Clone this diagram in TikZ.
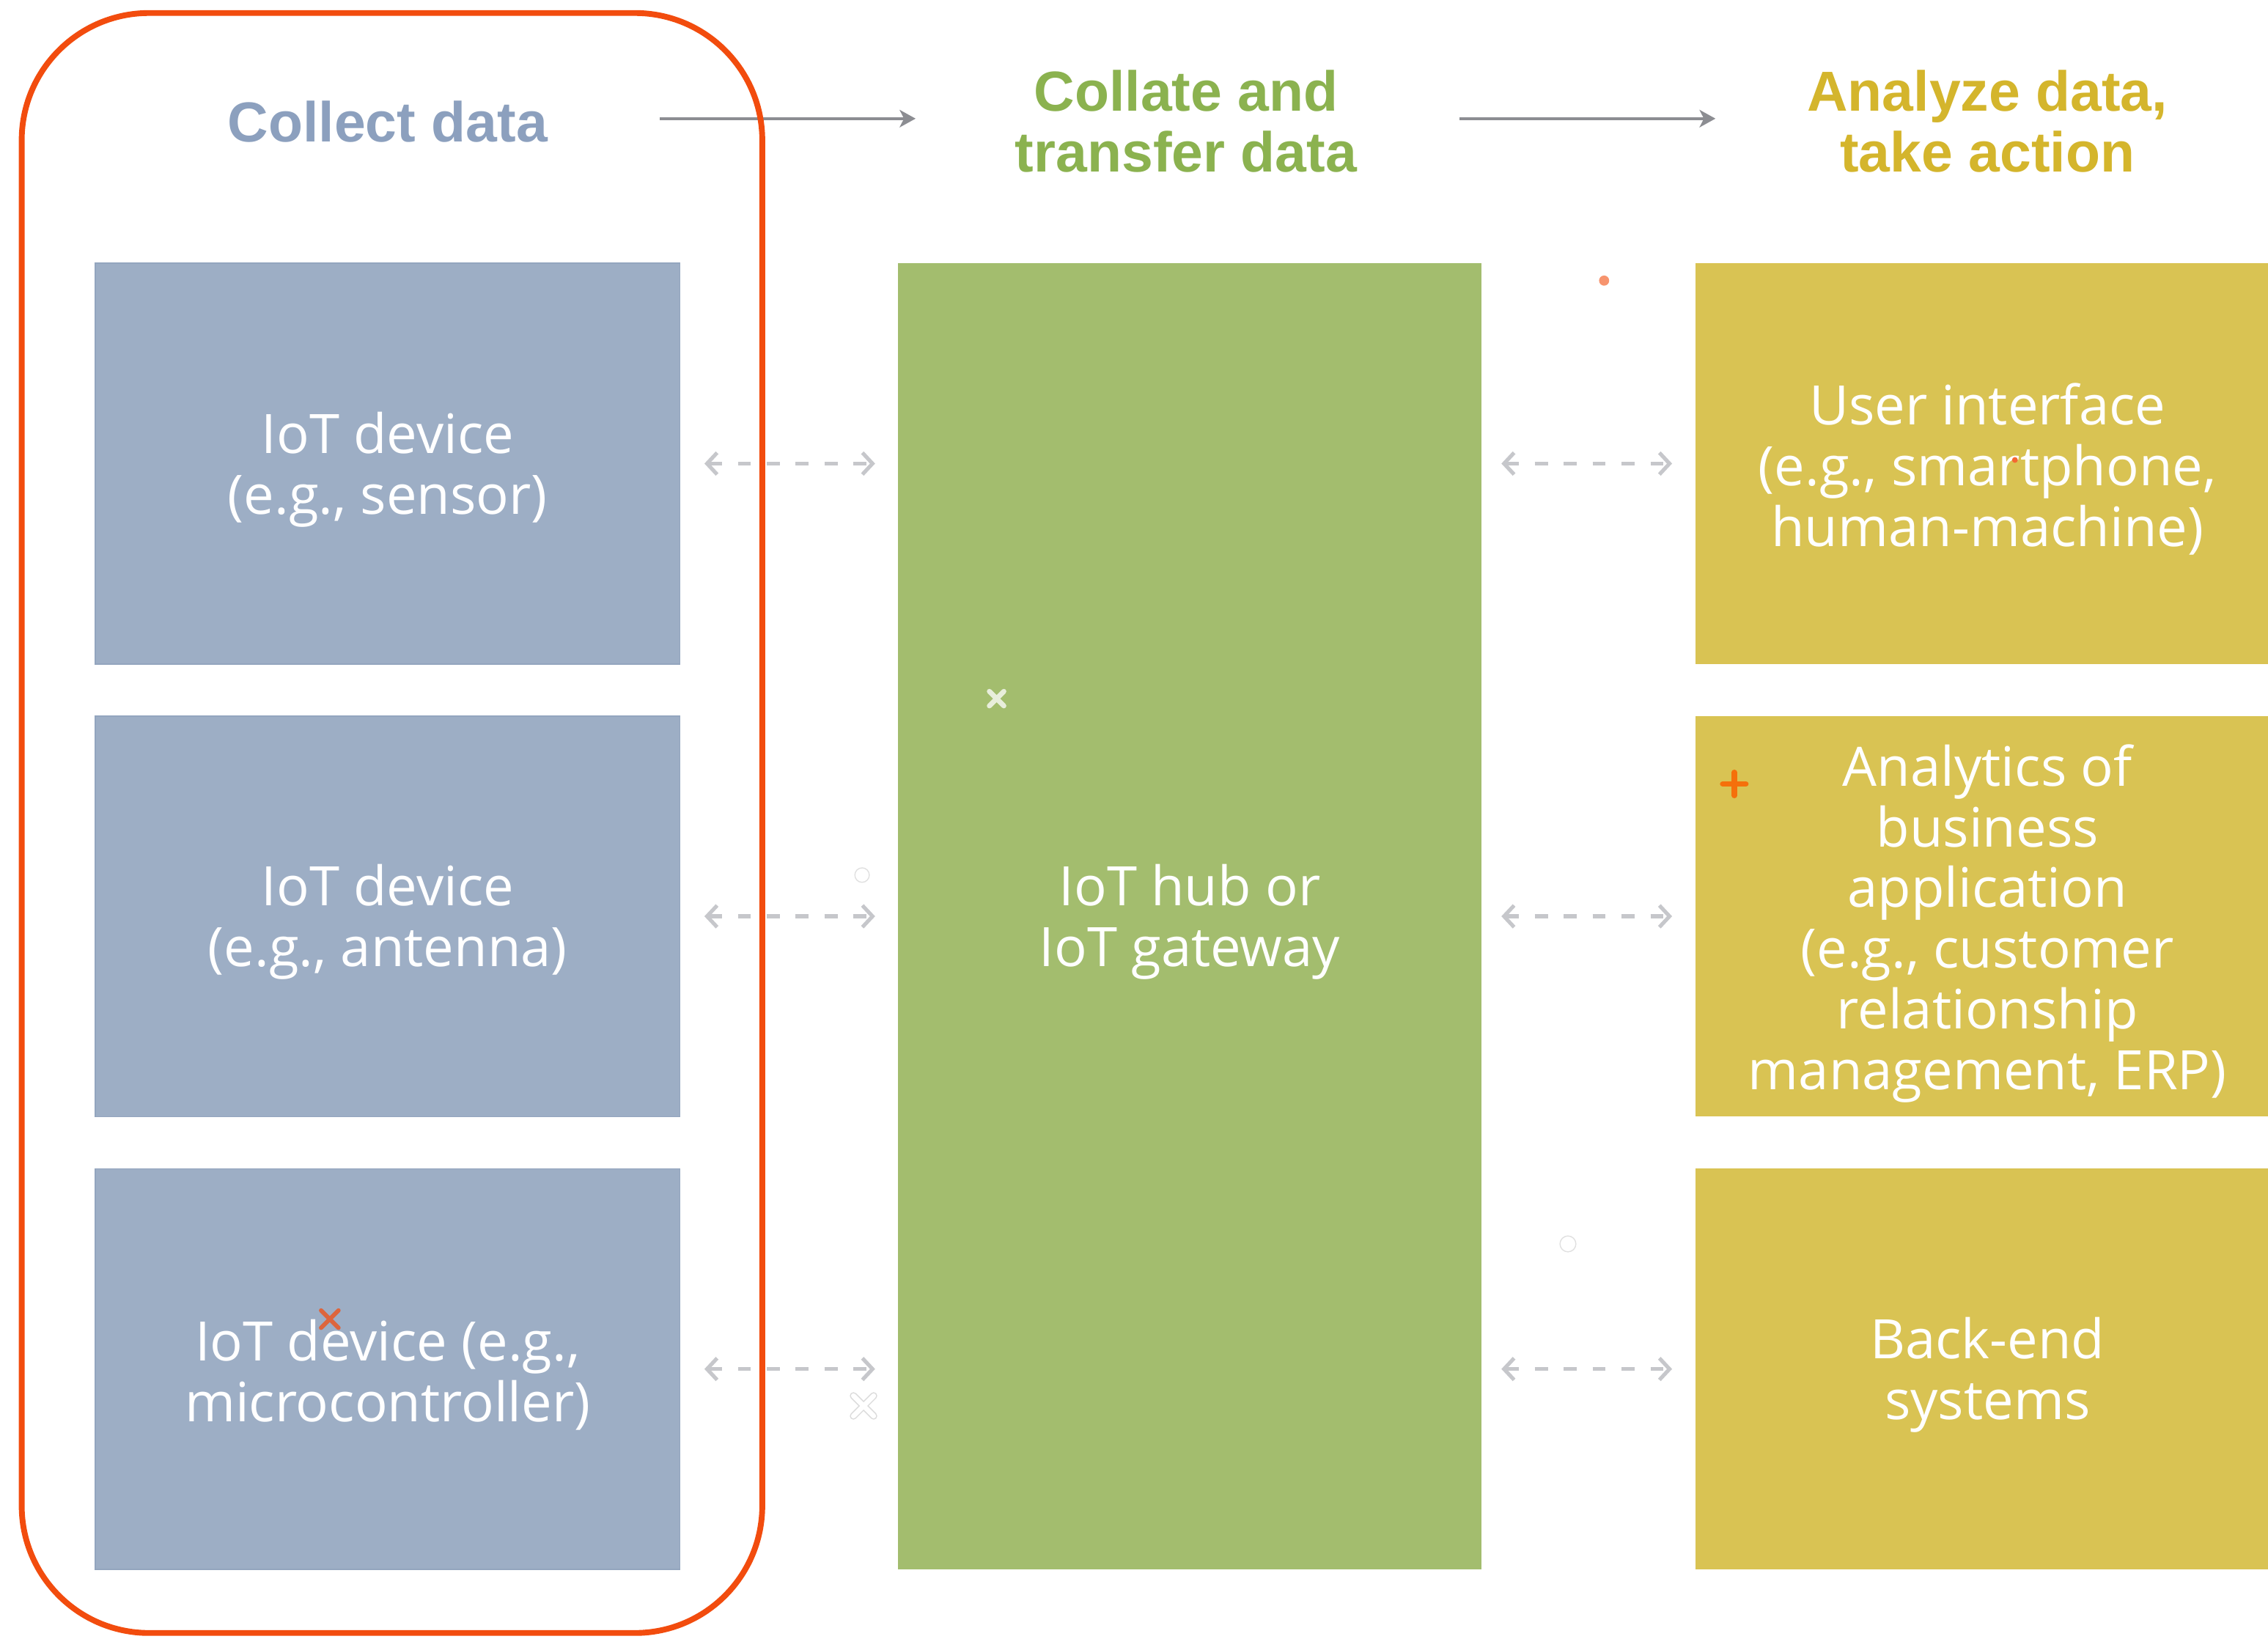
\documentclass[tikz,border=0pt]{standalone}
\usepackage{fontspec}
\setmainfont{Open Sans}
\newfontfamily\headfont{Liberation Sans}
\usetikzlibrary{arrows.meta}
\definecolor{bluebox}{HTML}{9DAEC5}
\definecolor{blueedge}{HTML}{93A5BE}
\definecolor{greenbox}{HTML}{A3BD6E}
\definecolor{yellowbox}{HTML}{D9C353}
\definecolor{bluehead}{HTML}{8CA0BE}
\definecolor{greenhead}{HTML}{8BB24F}
\definecolor{yellowhead}{HTML}{D4B52C}
\definecolor{toparrowcol}{HTML}{8C8D92}
\definecolor{dasharrowcol}{HTML}{C6C7CB}
\definecolor{orangeline}{HTML}{F24C0E}
\begin{document}
\begin{tikzpicture}[x=1pt,y=-1pt,
  boxtext/.style={text=white,align=center,font=\fontsize{37.6}{42}\selectfont,inner sep=0pt,outer sep=0pt},
  smallbox/.style={inner sep=0pt,outer sep=0pt,minimum width=404pt,minimum height=277pt},
  header/.style={align=center,font=\headfont\bfseries\fontsize{39}{42}\selectfont,inner sep=0pt},
  toparrow/.style={draw=toparrowcol,line width=1.9pt,-{Stealth[length=11pt,width=12pt,inset=3pt]}},
  dasharrow/.style={draw=dasharrowcol,line width=2.6pt,dash pattern=on 9pt off 11pt,
     {Straight Barb[length=7pt,width=15pt,line width=2.6pt]}-{Straight Barb[length=7pt,width=15pt,line width=2.6pt]}}]
\clip (0,0) rectangle (1568,1133);
\fill[white] (0,0) rectangle (1568,1133);
% headers
\node[header,text=bluehead] (h1) at (268,84) {Collect data};
\node[header,text=greenhead] (h2) at (820,84) {Collate and\\transfer data};
\node[header,text=yellowhead] (h3) at (1374,84) {Analyze data,\\take action};
\draw[toparrow,shorten <=188pt,shorten >=187pt] (h1.center |- 0,82) -- (h2.center |- 0,82);
\draw[toparrow,shorten <=189pt,shorten >=188pt] (h2.center |- 0,82) -- (h3.center |- 0,82);
% left column
\node[smallbox,fill=bluebox,draw=blueedge,line width=0.8pt] (b1) at (268,320.5) {};
\node[smallbox,fill=bluebox,draw=blueedge,line width=0.8pt] (b2) at (268,633.5) {};
\node[smallbox,fill=bluebox,draw=blueedge,line width=0.8pt] (b3) at (268,946.5) {};
\node[boxtext] (tb1) at ([yshift=-4pt]b1.center) {IoT device\\(e.g., sensor)};
\node[boxtext] (tb2) at ([yshift=-4pt]b2.center) {IoT device\\(e.g., antenna)};
\node[boxtext] (tb3) at ([yshift=-4pt]b3.center) {IoT device (e.g.,\\microcontroller)};
% middle
\node[inner sep=0pt,outer sep=0pt,fill=greenbox,minimum width=403pt,minimum height=903pt] (g) at (822.5,633.5) {};
\node[boxtext] (tg) at ([yshift=-4pt]g.center) {IoT hub or\\IoT gateway};
% right column
\node[smallbox,fill=yellowbox] (y1) at (1374,320.5) {};
\node[smallbox,fill=yellowbox] (y2) at (1374,633.5) {};
\node[smallbox,fill=yellowbox] (y3) at (1374,946.5) {};
\node[boxtext] (ty1) at ([yshift=-4pt]y1.center) {User interface\\(e.g., smartphone,\\human-machine)};
\node[boxtext] (ty2) at ([yshift=-5pt]y2.center) {Analytics of\\business\\application\\(e.g., customer\\relationship\\management, ERP)};
\node[boxtext] (ty3) at ([yshift=-4pt]y3.center) {Back-end\\systems};
% dashed connectors
\foreach \i in {1,2,3}{
  \draw[dasharrow,shorten <=17pt,shorten >=16pt] (b\i.east) -- (b\i.east -| g.west);
  \draw[dasharrow,shorten <=14pt,shorten >=16pt] (y\i.west -| g.east) -- (y\i.west);
}
% orange rounded outline
\draw[orangeline,line width=4pt,rounded corners=88pt] (15,9) rectangle (527,1129);
% stray marks
\fill[orangeline!60!white] (1109,194) circle (3.5pt);
\draw[line width=3.5pt,line cap=round,color=greenbox!25!white] (684,478) -- (694,488) (684,488) -- (694,478);
\draw[line width=0.7pt,color=black!12] (596,605) circle (5pt);
\draw[line width=3.8pt,line cap=round,color=orangeline!80!yellow] (1191,542) -- (1207,542) (1199,534) -- (1199,550);
\draw[line width=3pt,line cap=round,color=orangeline!75!bluebox] (222,906) -- (234,918) (222,918) -- (234,906);
\draw[line width=5pt,line cap=round,color=black!14] (590,965) -- (604,979) (590,979) -- (604,965);
\draw[line width=3.4pt,line cap=round,color=white] (590,965) -- (604,979) (590,979) -- (604,965);
\draw[line width=0.7pt,color=black!12] (1084,860) circle (5.5pt);
\fill[orangeline!85!white] (1393,318) circle (2pt);
\end{tikzpicture}
\end{document}
